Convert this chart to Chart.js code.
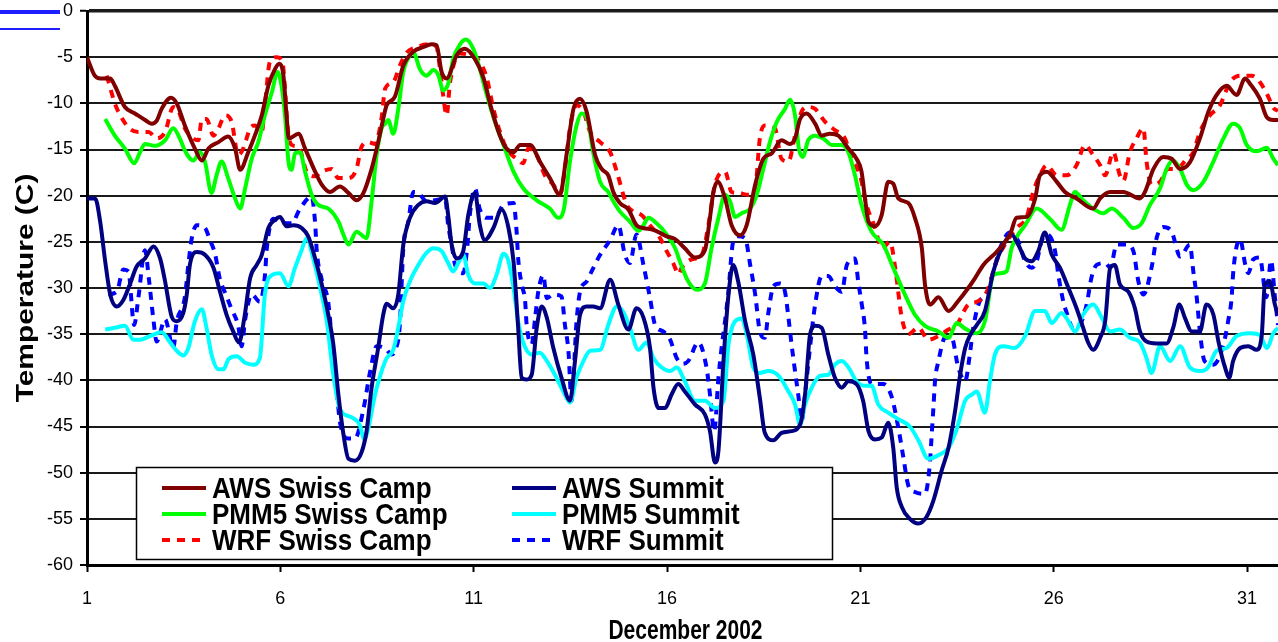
<!DOCTYPE html>
<html>
<head>
<meta charset="utf-8">
<script src="https://cdn.jsdelivr.net/npm/chart.js@4.4.0/dist/chart.umd.min.js"></script>
<style>
  html, body { margin: 0; padding: 0; background: #fff; }
  #wrap { width: 1278px; height: 642px; position: relative; }
</style>
</head>
<body>
<div id="wrap"><canvas id="c" width="1278" height="642"></canvas></div>
<script>
// Hourly-derived 2 m air temperature (°C), December 2002: [day of month, temperature]
const xTickDays = [1, 6, 11, 16, 21, 26, 31];
const yTickValues = [0, -5, -10, -15, -20, -25, -30, -35, -40, -45, -50, -55, -60];
const xAxisTitle = 'December 2002';
const yAxisTitle = 'Temperature (C)';

const awsSwissCamp = [[1.00,-5.0],[1.20,-7.0],[1.35,-7.3],[1.60,-7.3],[1.72,-8.1],[1.98,-10.4],[2.24,-11.1],[2.50,-11.8],[2.67,-12.2],[2.80,-11.9],[2.93,-10.6],[3.17,-9.4],[3.32,-10.0],[3.53,-12.4],[3.79,-14.9],[3.97,-16.2],[4.14,-14.9],[4.40,-14.2],[4.65,-13.6],[4.83,-14.9],[4.96,-17.2],[5.17,-15.3],[5.34,-13.5],[5.52,-11.3],[5.69,-8.1],[5.86,-6.3],[5.97,-5.7],[6.08,-7.0],[6.16,-11.3],[6.22,-13.8],[6.47,-13.3],[6.64,-14.9],[6.90,-17.4],[7.07,-18.8],[7.28,-19.6],[7.54,-19.0],[7.76,-19.7],[7.97,-20.5],[8.15,-19.7],[8.36,-17.1],[8.53,-14.2],[8.66,-11.7],[8.75,-10.2],[8.96,-9.3],[9.18,-5.9],[9.44,-4.4],[9.70,-3.9],[9.91,-3.6],[10.04,-3.7],[10.17,-6.6],[10.30,-7.3],[10.56,-4.8],[10.77,-4.1],[11.03,-5.2],[11.25,-7.2],[11.46,-10.6],[11.68,-13.5],[11.85,-14.9],[12.03,-15.3],[12.20,-14.5],[12.46,-14.5],[12.71,-16.3],[12.97,-18.1],[13.23,-19.9],[13.40,-15.6],[13.58,-10.6],[13.75,-9.5],[13.92,-10.9],[14.14,-15.6],[14.31,-17.1],[14.48,-17.8],[14.61,-19.6],[14.78,-20.8],[15.00,-21.5],[15.21,-23.2],[15.38,-23.5],[15.65,-23.7],[15.99,-24.4],[16.21,-24.7],[16.46,-25.7],[16.72,-26.7],[16.98,-25.9],[17.11,-22.4],[17.20,-19.6],[17.31,-18.5],[17.50,-20.3],[17.67,-23.2],[17.89,-24.3],[18.06,-23.2],[18.28,-18.8],[18.49,-16.0],[18.71,-15.4],[18.96,-14.0],[19.18,-14.4],[19.31,-13.8],[19.44,-11.7],[19.61,-11.1],[19.83,-12.2],[20.00,-13.5],[20.21,-13.3],[20.43,-13.5],[20.69,-14.9],[20.90,-16.0],[21.03,-17.4],[21.12,-20.3],[21.21,-22.8],[21.38,-23.3],[21.55,-22.1],[21.72,-18.5],[21.85,-18.7],[21.98,-20.3],[22.24,-20.8],[22.41,-22.4],[22.59,-25.7],[22.67,-29.6],[22.80,-31.8],[23.02,-31.0],[23.28,-32.5],[23.53,-31.4],[23.79,-30.0],[23.97,-28.9],[24.18,-27.5],[24.52,-26.1],[24.87,-24.2],[25.04,-22.4],[25.30,-22.3],[25.52,-20.3],[25.64,-17.8],[25.82,-17.4],[26.08,-18.5],[26.29,-19.6],[26.59,-20.3],[27.02,-21.4],[27.20,-20.3],[27.46,-19.6],[27.80,-19.6],[28.23,-20.3],[28.36,-19.6],[28.58,-17.1],[28.83,-15.8],[29.05,-16.0],[29.27,-17.1],[29.52,-16.4],[29.78,-13.8],[30.00,-10.9],[30.21,-9.1],[30.47,-8.1],[30.73,-9.1],[30.95,-7.3],[31.08,-7.9],[31.33,-9.5],[31.51,-11.5],[31.68,-11.8],[31.80,-11.8]];

const awsSummit = [[1.00,-20.3],[1.21,-20.3],[1.34,-22.8],[1.47,-27.1],[1.60,-30.7],[1.77,-32.0],[1.94,-31.3],[2.11,-29.6],[2.28,-27.7],[2.50,-26.8],[2.72,-25.5],[2.89,-26.8],[3.02,-29.3],[3.19,-33.1],[3.32,-33.6],[3.49,-32.7],[3.58,-30.7],[3.66,-27.5],[3.84,-26.1],[4.05,-26.4],[4.27,-27.8],[4.44,-30.4],[4.61,-32.9],[4.78,-34.7],[4.93,-35.9],[5.07,-33.2],[5.22,-28.9],[5.39,-27.5],[5.52,-26.4],[5.69,-23.5],[5.86,-22.6],[5.99,-22.3],[6.16,-23.3],[6.34,-23.2],[6.55,-23.5],[6.72,-24.4],[6.90,-26.8],[7.07,-29.6],[7.24,-32.9],[7.37,-36.1],[7.50,-41.5],[7.63,-45.8],[7.76,-48.5],[7.93,-48.7],[8.10,-47.8],[8.23,-45.5],[8.36,-40.8],[8.53,-36.5],[8.66,-32.9],[8.75,-31.7],[8.92,-32.2],[9.05,-30.7],[9.18,-25.3],[9.35,-22.4],[9.57,-21.0],[9.78,-20.6],[10.00,-20.8],[10.26,-20.1],[10.34,-22.1],[10.43,-25.3],[10.56,-26.8],[10.73,-26.0],[10.86,-22.1],[11.03,-19.7],[11.16,-23.2],[11.29,-24.8],[11.51,-23.5],[11.72,-21.5],[11.90,-23.5],[12.03,-27.1],[12.15,-34.3],[12.24,-39.7],[12.37,-39.9],[12.50,-39.4],[12.63,-34.3],[12.76,-32.0],[12.89,-33.2],[13.06,-36.5],[13.27,-39.7],[13.49,-42.2],[13.62,-37.9],[13.75,-32.9],[13.92,-32.0],[14.09,-32.0],[14.27,-32.2],[14.53,-29.1],[14.74,-31.8],[15.00,-34.5],[15.21,-32.2],[15.39,-33.2],[15.56,-36.5],[15.65,-40.8],[15.78,-43.0],[15.95,-43.0],[16.12,-41.5],[16.29,-40.4],[16.46,-41.2],[16.72,-42.6],[16.98,-43.7],[17.11,-45.5],[17.24,-48.9],[17.33,-47.6],[17.46,-37.9],[17.59,-30.7],[17.71,-27.5],[17.84,-29.3],[18.02,-33.6],[18.23,-37.2],[18.40,-41.9],[18.53,-45.7],[18.75,-46.5],[18.96,-45.7],[19.22,-45.5],[19.44,-44.8],[19.57,-41.5],[19.70,-35.0],[19.83,-34.1],[20.00,-34.3],[20.17,-37.2],[20.34,-39.7],[20.52,-40.8],[20.69,-40.1],[20.90,-40.4],[21.07,-42.2],[21.21,-45.5],[21.38,-46.4],[21.55,-46.2],[21.72,-44.6],[21.85,-47.3],[21.94,-51.6],[22.07,-53.7],[22.28,-55.0],[22.50,-55.5],[22.71,-54.8],[22.89,-53.0],[23.10,-49.8],[23.28,-47.3],[23.45,-43.3],[23.58,-39.4],[23.71,-36.5],[23.84,-35.1],[24.01,-34.0],[24.22,-32.5],[24.44,-28.2],[24.70,-25.3],[24.91,-24.2],[25.08,-25.3],[25.26,-26.8],[25.43,-27.1],[25.60,-26.0],[25.77,-24.0],[25.95,-26.4],[26.16,-27.8],[26.38,-30.0],[26.59,-32.2],[26.76,-34.3],[26.89,-35.9],[27.02,-36.7],[27.20,-35.4],[27.33,-33.6],[27.46,-27.8],[27.58,-27.5],[27.71,-29.6],[27.93,-30.4],[28.10,-32.2],[28.23,-34.7],[28.40,-35.8],[28.66,-36.0],[28.92,-36.0],[29.09,-34.3],[29.25,-31.8],[29.39,-33.2],[29.57,-34.7],[29.78,-34.7],[29.95,-31.8],[30.13,-32.9],[30.26,-35.8],[30.43,-38.6],[30.54,-39.7],[30.64,-37.9],[30.82,-36.5],[31.03,-36.3],[31.25,-36.7],[31.38,-35.1],[31.46,-29.6],[31.59,-29.3],[31.72,-31.8],[31.80,-32.9]];

const pmm5SwissCamp = [[1.47,-11.7],[1.72,-13.5],[1.98,-14.9],[2.22,-16.5],[2.37,-15.3],[2.50,-14.4],[2.76,-14.6],[3.02,-14.0],[3.23,-12.7],[3.40,-13.8],[3.53,-15.1],[3.75,-16.2],[3.92,-15.3],[4.05,-16.3],[4.22,-19.7],[4.35,-17.8],[4.48,-16.3],[4.65,-18.1],[4.83,-20.3],[4.96,-21.4],[5.09,-19.2],[5.26,-16.0],[5.43,-14.2],[5.60,-11.3],[5.78,-8.8],[5.93,-6.6],[6.03,-8.1],[6.12,-11.3],[6.21,-16.3],[6.29,-17.2],[6.38,-15.4],[6.51,-15.3],[6.64,-17.4],[6.81,-19.9],[6.98,-21.0],[7.24,-21.4],[7.50,-22.8],[7.63,-24.2],[7.76,-25.3],[7.97,-23.9],[8.23,-24.6],[8.36,-20.6],[8.49,-15.6],[8.62,-12.7],[8.71,-12.2],[8.79,-11.8],[8.92,-13.3],[9.05,-10.6],[9.18,-6.6],[9.35,-4.8],[9.44,-4.5],[9.61,-6.3],[9.78,-7.0],[9.96,-6.4],[10.09,-7.0],[10.21,-8.6],[10.34,-7.9],[10.47,-5.2],[10.65,-3.6],[10.80,-3.1],[10.99,-4.1],[11.16,-6.3],[11.34,-9.1],[11.55,-12.0],[11.77,-14.5],[12.03,-17.4],[12.28,-19.2],[12.63,-20.5],[12.97,-21.4],[13.19,-22.4],[13.32,-21.7],[13.49,-16.3],[13.66,-12.4],[13.79,-11.1],[13.96,-12.0],[14.09,-15.3],[14.27,-18.5],[14.48,-19.6],[14.61,-20.6],[14.78,-21.7],[15.04,-22.8],[15.26,-23.8],[15.39,-23.2],[15.52,-22.4],[15.73,-23.0],[15.99,-24.2],[16.21,-25.7],[16.33,-27.1],[16.55,-29.3],[16.77,-30.2],[16.98,-29.5],[17.15,-25.7],[17.33,-22.4],[17.50,-19.9],[17.63,-20.6],[17.76,-22.3],[17.93,-21.9],[18.15,-21.4],[18.32,-19.9],[18.49,-17.1],[18.66,-14.2],[18.84,-12.0],[19.05,-10.6],[19.18,-9.6],[19.31,-11.3],[19.41,-14.9],[19.51,-15.8],[19.65,-14.0],[19.83,-13.5],[20.04,-13.8],[20.26,-14.5],[20.52,-14.5],[20.69,-15.3],[20.86,-17.8],[21.03,-21.0],[21.29,-23.9],[21.59,-25.3],[21.85,-27.8],[22.15,-30.7],[22.41,-32.9],[22.67,-34.1],[23.02,-34.7],[23.28,-35.4],[23.49,-33.8],[23.71,-34.4],[24.01,-34.9],[24.22,-33.6],[24.44,-28.6],[24.61,-28.4],[24.78,-28.2],[24.91,-25.7],[25.04,-24.5],[25.26,-23.2],[25.56,-21.4],[25.90,-22.5],[26.20,-23.7],[26.42,-21.0],[26.55,-19.6],[26.76,-20.5],[27.02,-21.4],[27.28,-21.9],[27.50,-21.4],[27.80,-22.4],[28.06,-23.5],[28.27,-23.0],[28.49,-21.0],[28.75,-19.2],[28.92,-17.1],[29.08,-16.2],[29.27,-17.1],[29.44,-18.8],[29.61,-19.4],[29.87,-18.5],[30.13,-16.3],[30.39,-13.8],[30.64,-12.2],[30.82,-12.7],[30.99,-14.5],[31.25,-15.2],[31.51,-14.8],[31.68,-16.0],[31.80,-16.7]];

const pmm5Summit = [[1.47,-34.5],[1.72,-34.3],[1.98,-34.1],[2.20,-35.6],[2.37,-35.6],[2.63,-35.2],[2.93,-34.8],[3.15,-35.9],[3.32,-36.8],[3.49,-37.3],[3.62,-36.5],[3.79,-33.6],[3.97,-32.3],[4.09,-34.3],[4.22,-37.2],[4.40,-38.8],[4.53,-38.8],[4.66,-37.7],[4.87,-37.4],[5.09,-38.1],[5.30,-38.3],[5.47,-37.6],[5.60,-30.7],[5.78,-28.6],[5.99,-28.4],[6.21,-29.8],[6.38,-27.8],[6.55,-25.9],[6.68,-24.6],[6.85,-26.8],[7.03,-30.0],[7.20,-33.6],[7.37,-39.4],[7.54,-43.1],[7.84,-44.0],[8.06,-44.9],[8.17,-46.4],[8.28,-45.1],[8.45,-41.5],[8.62,-39.0],[8.75,-37.6],[8.92,-36.7],[9.05,-34.3],[9.18,-31.4],[9.35,-29.3],[9.57,-27.5],[9.78,-26.2],[9.96,-25.7],[10.17,-26.0],[10.34,-27.3],[10.47,-28.2],[10.60,-27.3],[10.73,-26.4],[10.86,-28.6],[11.03,-29.5],[11.25,-29.5],[11.42,-30.0],[11.59,-28.6],[11.77,-26.3],[11.90,-27.1],[12.03,-30.0],[12.15,-33.6],[12.28,-35.9],[12.50,-37.2],[12.71,-37.0],[12.89,-37.9],[13.10,-39.4],[13.32,-41.2],[13.49,-42.4],[13.66,-39.7],[13.84,-37.9],[14.01,-36.8],[14.27,-36.7],[14.48,-34.0],[14.70,-32.0],[14.87,-32.6],[15.04,-34.3],[15.26,-36.7],[15.47,-35.9],[15.65,-37.6],[15.86,-38.6],[16.08,-39.0],[16.25,-38.6],[16.46,-40.1],[16.72,-42.2],[16.98,-42.2],[17.24,-43.0],[17.46,-42.2],[17.59,-36.1],[17.76,-33.6],[17.93,-33.3],[18.06,-35.0],[18.23,-38.6],[18.40,-39.2],[18.62,-39.0],[18.88,-39.5],[19.14,-41.2],[19.31,-42.6],[19.44,-44.8],[19.57,-42.6],[19.74,-40.8],[19.96,-39.5],[20.17,-39.4],[20.34,-38.3],[20.52,-37.9],[20.69,-38.6],[20.90,-40.1],[21.12,-40.6],[21.29,-40.6],[21.46,-42.6],[21.72,-43.5],[21.98,-44.2],[22.28,-45.0],[22.50,-46.5],[22.76,-48.5],[23.02,-48.1],[23.28,-47.3],[23.49,-45.3],[23.71,-42.2],[23.90,-41.5],[24.01,-41.2],[24.22,-43.5],[24.35,-40.1],[24.48,-37.2],[24.70,-36.3],[24.99,-36.5],[25.26,-35.2],[25.52,-32.5],[25.77,-32.5],[25.95,-33.8],[26.20,-32.7],[26.38,-33.6],[26.55,-34.7],[26.76,-32.9],[27.02,-31.8],[27.24,-33.2],[27.46,-34.7],[27.71,-34.5],[27.97,-35.4],[28.23,-35.9],[28.40,-37.6],[28.53,-39.2],[28.75,-36.3],[29.01,-37.9],[29.27,-36.3],[29.52,-38.6],[29.78,-39.0],[29.99,-38.6],[30.21,-36.8],[30.47,-36.5],[30.73,-35.2],[31.08,-34.9],[31.33,-35.1],[31.51,-36.5],[31.68,-34.9],[31.80,-34.3]];

const wrfSwissCamp = [[1.51,-7.0],[1.72,-10.0],[1.81,-10.9],[2.07,-12.6],[2.33,-13.1],[2.59,-13.1],[2.80,-13.8],[3.02,-13.1],[3.23,-10.4],[3.36,-10.8],[3.53,-12.7],[3.75,-13.8],[3.88,-14.0],[3.97,-11.7],[4.09,-11.7],[4.27,-13.5],[4.40,-12.7],[4.57,-11.3],[4.74,-12.0],[4.91,-15.6],[5.04,-14.9],[5.22,-12.7],[5.34,-12.4],[5.52,-13.1],[5.60,-10.2],[5.73,-5.5],[5.90,-5.0],[6.05,-5.4],[6.12,-8.4],[6.19,-12.7],[6.29,-14.5],[6.47,-14.7],[6.68,-17.4],[6.90,-17.9],[7.07,-17.4],[7.33,-17.1],[7.50,-18.1],[7.76,-18.1],[7.97,-17.1],[8.10,-14.7],[8.28,-14.2],[8.45,-14.4],[8.62,-11.5],[8.71,-8.4],[8.92,-7.7],[9.09,-5.9],[9.27,-4.5],[9.53,-3.9],[9.87,-3.6],[10.04,-3.9],[10.13,-6.3],[10.21,-9.1],[10.30,-11.3],[10.39,-7.7],[10.65,-4.6],[10.90,-4.8],[11.16,-5.5],[11.34,-7.3],[11.51,-10.6],[11.68,-13.1],[11.85,-14.9],[12.11,-16.0],[12.28,-16.5],[12.41,-14.9],[12.63,-15.6],[12.84,-17.8],[13.06,-18.8],[13.23,-19.9],[13.36,-17.1],[13.49,-12.7],[13.66,-10.2],[13.84,-10.9],[14.01,-13.1],[14.27,-14.2],[14.53,-15.3],[14.70,-17.4],[14.96,-21.0],[15.13,-21.7],[15.34,-22.1],[15.56,-23.2],[15.82,-24.6],[15.99,-26.0],[16.16,-27.3],[16.30,-28.5],[16.38,-27.8],[16.64,-26.9],[16.90,-26.4],[17.07,-23.2],[17.24,-18.8],[17.50,-17.4],[17.67,-19.6],[17.84,-19.7],[18.10,-19.9],[18.28,-19.2],[18.40,-13.8],[18.53,-12.4],[18.79,-12.7],[18.96,-16.0],[19.14,-16.3],[19.31,-13.5],[19.48,-10.9],[19.65,-10.4],[19.83,-10.6],[20.09,-12.0],[20.34,-12.9],[20.60,-13.8],[20.78,-16.0],[20.99,-17.8],[21.16,-21.0],[21.38,-23.5],[21.55,-25.7],[21.77,-25.0],[21.90,-27.8],[22.07,-33.2],[22.24,-35.0],[22.50,-34.3],[22.76,-35.6],[23.02,-35.2],[23.28,-34.5],[23.49,-34.0],[23.79,-31.8],[24.01,-31.5],[24.27,-30.4],[24.52,-27.1],[24.78,-25.0],[25.04,-23.5],[25.30,-22.3],[25.47,-19.6],[25.64,-17.8],[25.82,-16.7],[26.08,-17.8],[26.33,-17.8],[26.59,-16.7],[26.81,-14.5],[27.02,-15.6],[27.20,-16.7],[27.33,-17.8],[27.54,-15.3],[27.71,-17.8],[27.80,-18.4],[27.97,-15.3],[28.14,-13.8],[28.32,-12.7],[28.40,-16.3],[28.53,-18.8],[28.75,-18.5],[28.96,-17.1],[29.18,-17.1],[29.44,-16.0],[29.61,-15.3],[29.78,-13.1],[30.04,-11.3],[30.30,-10.2],[30.56,-7.7],[30.82,-7.0],[31.12,-7.0],[31.33,-7.7],[31.55,-9.3],[31.68,-10.5],[31.80,-10.8]];

const wrfSummit = [[1.55,-30.7],[1.77,-30.4],[1.94,-28.0],[2.07,-28.2],[2.22,-34.0],[2.33,-31.0],[2.50,-25.9],[2.60,-29.0],[2.72,-33.5],[2.80,-35.8],[3.02,-33.4],[3.23,-36.5],[3.32,-33.7],[3.53,-31.0],[3.62,-27.5],[3.71,-24.6],[3.84,-23.2],[4.05,-23.5],[4.18,-24.8],[4.31,-26.3],[4.44,-29.1],[4.57,-30.5],[4.74,-32.3],[4.91,-34.1],[5.00,-36.3],[5.09,-33.4],[5.26,-30.7],[5.47,-31.5],[5.60,-28.7],[5.65,-25.7],[5.82,-22.5],[6.03,-23.0],[6.29,-23.0],[6.51,-21.4],[6.81,-20.1],[6.90,-23.0],[6.94,-25.9],[7.07,-29.1],[7.24,-31.6],[7.33,-35.8],[7.37,-38.6],[7.46,-41.3],[7.54,-44.5],[7.76,-46.3],[7.93,-46.3],[8.15,-43.1],[8.32,-39.1],[8.49,-36.3],[8.70,-36.5],[8.88,-37.2],[8.96,-36.8],[9.09,-34.0],[9.18,-25.7],[9.31,-22.8],[9.44,-19.6],[9.57,-19.7],[9.78,-20.6],[10.00,-20.5],[10.26,-20.3],[10.34,-23.2],[10.43,-25.3],[10.52,-27.5],[10.73,-28.4],[10.84,-25.3],[10.90,-22.1],[11.03,-19.2],[11.16,-21.5],[11.34,-22.4],[11.55,-22.4],[11.77,-21.0],[12.03,-20.8],[12.11,-23.9],[12.15,-26.8],[12.24,-29.6],[12.33,-31.4],[12.37,-34.0],[12.50,-36.1],[12.59,-33.2],[12.67,-30.4],[12.80,-28.6],[12.89,-31.1],[13.06,-30.7],[13.27,-30.9],[13.36,-34.0],[13.45,-36.8],[13.53,-42.2],[13.66,-33.6],[13.75,-30.4],[13.92,-29.3],[14.05,-28.2],[14.27,-26.4],[14.53,-24.8],[14.74,-23.2],[14.91,-26.4],[15.04,-27.3],[15.21,-24.2],[15.39,-27.5],[15.56,-31.1],[15.69,-34.0],[15.90,-34.7],[16.08,-35.6],[16.25,-37.6],[16.40,-38.2],[16.55,-37.9],[16.81,-35.9],[17.02,-38.6],[17.11,-41.5],[17.22,-45.5],[17.33,-39.7],[17.41,-36.5],[17.50,-33.6],[17.58,-30.7],[17.71,-25.0],[17.84,-24.4],[18.02,-24.6],[18.15,-27.5],[18.28,-30.7],[18.40,-34.7],[18.53,-35.4],[18.62,-32.7],[18.75,-29.8],[18.92,-29.5],[19.05,-30.4],[19.14,-33.2],[19.22,-36.1],[19.31,-39.0],[19.40,-41.8],[19.48,-44.4],[19.57,-41.5],[19.65,-38.3],[19.83,-31.8],[20.00,-28.7],[20.17,-28.7],[20.34,-29.8],[20.52,-30.4],[20.65,-27.5],[20.86,-26.8],[20.95,-29.5],[21.03,-31.6],[21.12,-34.5],[21.16,-37.6],[21.29,-40.4],[21.59,-40.4],[21.81,-41.8],[21.98,-45.1],[22.11,-48.3],[22.24,-51.4],[22.41,-52.1],[22.67,-52.3],[22.80,-48.9],[22.84,-46.2],[22.89,-42.9],[22.93,-40.1],[23.02,-37.9],[23.19,-35.4],[23.36,-35.4],[23.53,-38.6],[23.71,-40.1],[23.83,-37.2],[23.92,-34.3],[24.09,-31.4],[24.27,-30.7],[24.44,-28.2],[24.65,-25.3],[24.87,-24.0],[25.08,-24.9],[25.26,-27.1],[25.43,-27.8],[25.56,-27.1],[25.69,-24.9],[25.82,-24.2],[26.03,-25.9],[26.12,-28.6],[26.25,-31.5],[26.33,-32.6],[26.51,-34.4],[26.68,-34.0],[26.85,-31.8],[26.98,-28.8],[27.11,-27.5],[27.33,-27.3],[27.46,-27.8],[27.63,-25.3],[27.89,-25.3],[28.06,-26.0],[28.19,-29.3],[28.32,-30.7],[28.53,-27.8],[28.66,-24.6],[28.83,-23.4],[29.05,-23.9],[29.27,-26.6],[29.52,-25.3],[29.61,-28.2],[29.70,-31.1],[29.78,-34.7],[29.90,-37.9],[30.13,-38.3],[30.39,-36.1],[30.51,-33.6],[30.60,-31.1],[30.64,-28.4],[30.73,-25.5],[30.82,-24.7],[30.95,-27.4],[31.03,-28.4],[31.16,-26.9],[31.33,-26.7],[31.50,-31.0],[31.62,-27.0],[31.72,-31.0],[31.80,-34.0]];

const seriesLabels = ['AWS Swiss Camp', 'AWS Summit', 'PMM5 Swiss Camp', 'PMM5 Summit', 'WRF Swiss Camp', 'WRF Summit'];
const seriesData = [awsSwissCamp, awsSummit, pmm5SwissCamp, pmm5Summit, wrfSwissCamp, wrfSummit];
const seriesColors = ['#800000', '#000080', '#00ff00', '#00ffff', '#ff0000', '#0000ff'];
const seriesDashes = [[], [], [], [], [8, 7], [8, 7]];

const FONT = '"Liberation Sans", Arial, Helvetica, sans-serif';

const datasets = seriesData.map((pairs, i) => ({
  label: seriesLabels[i],
  data: pairs.map(([x, y]) => ({ x, y })),
  borderColor: seriesColors[i],
  backgroundColor: seriesColors[i],
  borderWidth: 4,
  borderDash: seriesDashes[i],
  pointRadius: 0,
  cubicInterpolationMode: 'monotone',
  fill: false
}));

// White page background and the two short blue rules in the top-left corner
const pageBackground = {
  id: 'pageBackground',
  beforeDraw(chart) {
    const { ctx, width, height } = chart;
    ctx.save();
    ctx.fillStyle = '#ffffff';
    ctx.fillRect(0, 0, width, height);
    ctx.strokeStyle = '#1e1eff';
    ctx.lineWidth = 4;
    ctx.beginPath(); ctx.moveTo(0, 12); ctx.lineTo(60, 12); ctx.stroke();
    ctx.lineWidth = 2;
    ctx.beginPath(); ctx.moveTo(0, 29); ctx.lineTo(60, 29); ctx.stroke();
    ctx.restore();
  }
};

// Boxed two-column legend drawn inside the plot area
const boxLegend = {
  id: 'boxLegend',
  afterDatasetsDraw(chart) {
    const { ctx, chartArea: ca } = chart;
    const x0 = ca.left + 49, y0 = ca.top + 456, w = 696, h = 92;
    ctx.save();
    ctx.fillStyle = '#ffffff';
    ctx.fillRect(x0, y0, w, h);
    ctx.strokeStyle = '#000000';
    ctx.lineWidth = 1.5;
    ctx.strokeRect(x0 + 0.5, y0 + 0.5, w, h);
    const colX = [x0 + 26, x0 + 376];
    const rowY = [y0 + 21, y0 + 47, y0 + 73];
    chart.data.datasets.forEach((ds, i) => {
      const col = i % 2, row = Math.floor(i / 2);
      const sx = colX[col], sy = rowY[row];
      ctx.strokeStyle = ds.borderColor;
      ctx.lineWidth = ds.borderWidth;
      ctx.setLineDash(ds.borderDash || []);
      ctx.beginPath(); ctx.moveTo(sx, sy); ctx.lineTo(sx + 44, sy); ctx.stroke();
      ctx.setLineDash([]);
      ctx.save();
      ctx.translate(sx + 50, sy + 10);
      ctx.scale(1, 1.1);
      ctx.fillStyle = '#000000';
      ctx.font = 'bold 26px ' + FONT;
      ctx.textBaseline = 'alphabetic';
      ctx.textAlign = 'left';
      ctx.fillText(ds.label, 0, 0);
      ctx.restore();
    });
    ctx.restore();
  }
};

// Axis titles, set in a tall bold face
const axisTitles = {
  id: 'axisTitles',
  afterDraw(chart) {
    const { ctx, chartArea: ca } = chart;
    ctx.save();
    ctx.fillStyle = '#000000';
    ctx.textAlign = 'center';
    ctx.textBaseline = 'alphabetic';
    ctx.translate(33, (ca.top + ca.bottom) / 2);
    ctx.rotate(-Math.PI / 2);
    ctx.scale(1.3, 1);
    ctx.font = 'bold 23px ' + FONT;
    ctx.fillText(yAxisTitle, 0, 0);
    ctx.restore();

    ctx.save();
    ctx.fillStyle = '#000000';
    ctx.textAlign = 'center';
    ctx.textBaseline = 'alphabetic';
    ctx.translate((ca.left + ca.right) / 2 + 3, 639);
    ctx.scale(1, 1.3);
    ctx.font = 'bold 21px ' + FONT;
    ctx.fillText(xAxisTitle, 0, 0);
    ctx.restore();
  }
};

new Chart(document.getElementById('c'), {
  type: 'line',
  data: { datasets },
  plugins: [pageBackground, boxLegend, axisTitles],
  options: {
    responsive: false,
    devicePixelRatio: 1,
    animation: false,
    layout: { padding: { top: 11, right: 0, left: 0, bottom: 0 } },
    plugins: { legend: { display: false }, tooltip: { enabled: false }, title: { display: false } },
    scales: {
      x: {
        type: 'linear',
        min: 1,
        max: 31.8,
        afterBuildTicks: (scale) => { scale.ticks = xTickDays.map(v => ({ value: v })); },
        afterFit: (scale) => { scale.height = 77; scale.paddingLeft = 0; scale.paddingRight = 0; },
        ticks: {
          autoSkip: false,
          maxRotation: 0,
          padding: 16,
          color: '#000',
          font: { family: FONT, size: 18 },
          callback: (v) => String(v)
        },
        grid: { display: true, drawOnChartArea: false, drawTicks: true, tickLength: 7, tickColor: '#000', tickWidth: 2 },
        border: { display: true, color: '#000', width: 3 },
        title: { display: false }
      },
      y: {
        min: -60,
        max: 0,
        afterBuildTicks: (scale) => { scale.ticks = yTickValues.map(v => ({ value: v })); },
        afterFit: (scale) => { scale.width = 87; scale.paddingTop = 0; scale.paddingBottom = 0; },
        ticks: {
          padding: 7,
          color: '#000',
          font: { family: FONT, size: 18 },
          callback: (v) => String(v)
        },
        grid: {
          color: '#1a1a1a',
          lineWidth: (c) => (c.tick && c.tick.value === 0 ? 3.5 : 2),
          tickLength: 7,
          tickColor: '#000',
          tickWidth: 2
        },
        border: { display: true, color: '#000', width: 3 },
        title: { display: false }
      }
    }
  }
});
</script>
</body>
</html>
